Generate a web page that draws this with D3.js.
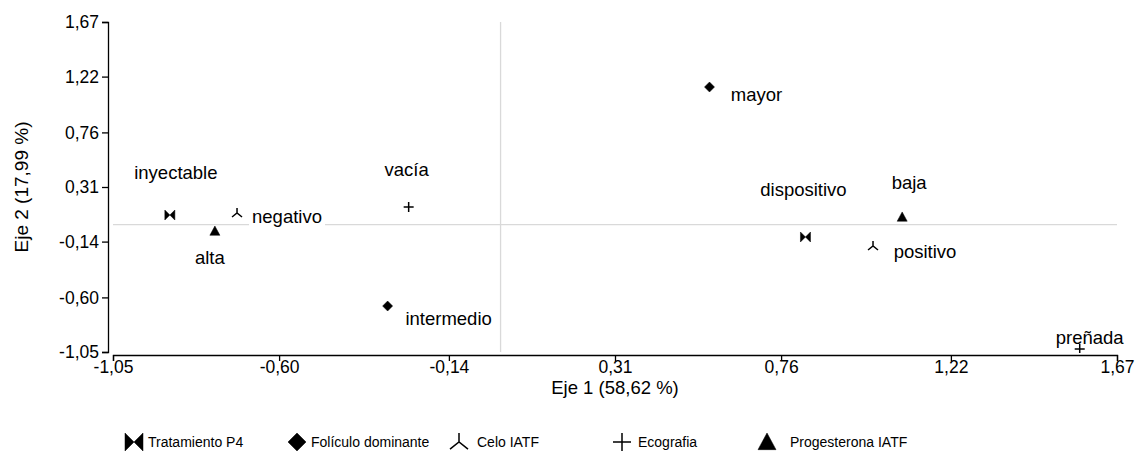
<!DOCTYPE html>
<html>
<head>
<meta charset="utf-8">
<script src="https://cdn.jsdelivr.net/npm/d3@7"></script>
<style>
  body { margin: 0; background: #fff; }
  text { font-family: "Liberation Sans", Arial, sans-serif; fill: #000; }
</style>
</head>
<body>
<div id="chart"></div>
<script>
// categories of the biplot
const variables = ["Tratamiento P4", "Folículo dominante", "Celo IATF", "Ecografia", "Progesterona IATF"];
const shapes = ["bowtie", "diamond", "ylambda", "plus", "triangle"];

// points: label, variable index, eje 1, eje 2
const pointLabels = ["inyectable", "dispositivo", "mayor", "intermedio", "negativo", "positivo", "vacía", "preñada", "alta", "baja"];
const pointGroup  = [0, 0, 1, 1, 2, 2, 3, 3, 4, 4];
const eje1 = [-0.896, 0.826, 0.566, -0.306, -0.714, 1.009, -0.249, 1.569, -0.774, 1.088];
const eje2 = [0.079, -0.102, 1.134, -0.671, 0.096, -0.176, 0.145, -1.025, -0.053, 0.063];

const tickVals = [-1.05, -0.60, -0.14, 0.31, 0.76, 1.22, 1.67];

const width = 1137, height = 456;
const svg = d3.select("#chart").append("svg")
  .attr("width", width).attr("height", height);

const x = d3.scaleLinear().domain([-1.05, 1.67]).range([113, 1117]);
const y = d3.scaleLinear().domain([-1.05, 1.67]).range([352, 22]);
const fmt = v => d3.format(".2f")(v).replace(".", ",").replace("\u2212", "-");

// shape paths, size s = half width
function shapePath(kind, s) {
  const p = d3.path();
  if (kind === "bowtie") {
    p.moveTo(-s, -s); p.lineTo(0, 0); p.lineTo(-s, s); p.closePath();
    p.moveTo(s, -s); p.lineTo(0, 0); p.lineTo(s, s); p.closePath();
  } else if (kind === "diamond") {
    p.moveTo(0, -s); p.lineTo(s, 0); p.lineTo(0, s); p.lineTo(-s, 0); p.closePath();
  } else if (kind === "triangle") {
    p.moveTo(0, -s); p.lineTo(s, s * 0.85); p.lineTo(-s, s * 0.85); p.closePath();
  } else if (kind === "plus") {
    p.moveTo(-s, 0); p.lineTo(s, 0); p.moveTo(0, -s); p.lineTo(0, s);
  } else if (kind === "ylambda") {
    p.moveTo(0, -s); p.lineTo(0, 0); p.moveTo(-s, s * 0.8); p.lineTo(0, 0); p.lineTo(s, s * 0.8);
  }
  return p.toString();
}
const filled = k => k === "bowtie" || k === "diamond" || k === "triangle";

// reference lines at zero
svg.append("line")
  .attr("x1", x(-1.05)).attr("x2", x(1.67))
  .attr("y1", y(0)).attr("y2", y(0))
  .attr("stroke", "#d9d9d9").attr("stroke-width", 1.3);
svg.append("line")
  .attr("x1", x(0)).attr("x2", x(0))
  .attr("y1", y(1.67)).attr("y2", y(-1.05))
  .attr("stroke", "#d9d9d9").attr("stroke-width", 1.3);

// axes
const xAxis = svg.append("g").attr("transform", "translate(0,355)")
  .call(d3.axisBottom(x).tickValues(tickVals).tickFormat(fmt).tickSize(6).tickSizeOuter(6).tickPadding(0));
const yAxis = svg.append("g").attr("transform", "translate(108,0)")
  .call(d3.axisLeft(y).tickValues(tickVals).tickFormat(fmt).tickSize(6).tickSizeOuter(6).tickPadding(3));
[xAxis, yAxis].forEach(g => {
  g.attr("font-family", null).attr("font-size", null);
  g.selectAll("path.domain, line").attr("stroke", "#000").attr("stroke-width", 1.3);
  g.selectAll("text").style("font-size", "17.5px");
});

svg.append("text").attr("x", x(0.31)).attr("y", 394)
  .attr("text-anchor", "middle").style("font-size", "18.5px").text("Eje 1 (58,62 %)");
svg.append("text")
  .attr("transform", `translate(28,${y(0.31)}) rotate(-90)`)
  .attr("text-anchor", "middle").style("font-size", "19px").text("Eje 2 (17,99 %)");

// label placement (centre offset from the point)
const labelDx = [6, -2, 47, 61, 50, 52, -2, 10, -5, 7];
const labelDy = [-43, -47, 7, 13, 4, 6, -37, -11, 26, -34];
const labelBg = [false, false, false, false, true, false, false, false, false, false];

svg.append("clipPath").attr("id", "plotclip")
  .append("rect").attr("x", 108).attr("y", 15).attr("width", 1029).attr("height", 338);

const pts = svg.append("g").attr("clip-path", "url(#plotclip)");
pointLabels.forEach((lab, i) => {
  const px = x(eje1[i]), py = y(eje2[i]);
  const kind = shapes[pointGroup[i]];
  const tx = px + labelDx[i], ty = py + labelDy[i];
  const t = svg.append("text").attr("x", tx).attr("y", ty).attr("dy", "0.35em")
    .attr("text-anchor", "middle").style("font-size", "18.5px").text(lab);
  if (labelBg[i]) {
    const bb = t.node().getBBox();
    svg.insert("rect", () => t.node()).attr("x", bb.x - 3).attr("y", bb.y).attr("width", bb.width + 6)
      .attr("height", bb.height).attr("fill", "#fff");
  }
  pts.append("path")
    .attr("d", shapePath(kind, 5))
    .attr("transform", `translate(${px},${py})`)
    .attr("fill", filled(kind) ? "#000" : "none")
    .attr("stroke", "#000").attr("stroke-width", filled(kind) ? 0.5 : 1.5);
});

// legend
const legX = [134, 297, 459, 622, 767];
const legTextX = [148, 311, 477, 638, 790];
const leg = svg.append("g").attr("transform", "translate(0,442)");
variables.forEach((v, i) => {
  const kind = shapes[i];
  leg.append("path")
    .attr("d", shapePath(kind, 9))
    .attr("transform", `translate(${legX[i]},0)`)
    .attr("fill", filled(kind) ? "#000" : "none")
    .attr("stroke", "#000").attr("stroke-width", filled(kind) ? 0.5 : 1.5);
  leg.append("text").attr("x", legTextX[i]).attr("y", 5)
    .style("font-size", "14px").text(v);
});
</script>
</body>
</html>
